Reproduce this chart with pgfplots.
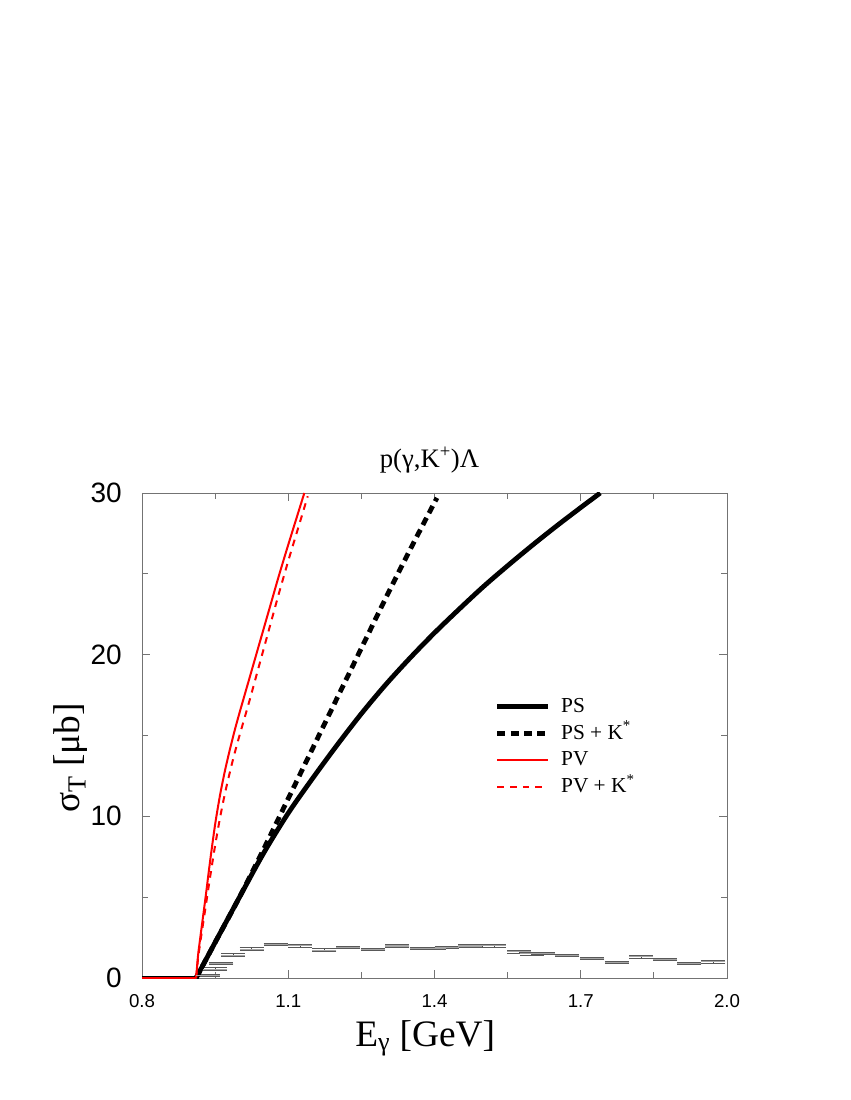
\documentclass[border=0pt]{standalone}
\usepackage{fontspec}
\setmainfont{Liberation Serif}
\newfontfamily\helv{Liberation Sans}
\usepackage{pgfplots}
\usepackage{pgfplotstable}
\pgfplotsset{compat=1.18}

% below threshold
\pgfplotstableread{
E s
0.80 0
0.911 0
}\flat

% PS (pseudoscalar coupling)
\pgfplotstableread{
E s
0.911 0
0.95 2.2
1.00 5.0
1.05 7.75
1.10 10.2
1.15 12.35
1.20 14.4
1.25 16.35
1.30 18.15
1.35 19.8
1.40 21.35
1.45 22.8
1.50 24.2
1.55 25.5
1.60 26.75
1.65 27.95
1.70 29.1
1.74 30.0
}\ps

% PS + K*
\pgfplotstableread{
E s
0.911 0
0.95 2.2
1.00 5.0
1.05 8.0
1.10 11.1
1.15 14.2
1.20 17.3
1.25 20.4
1.30 23.5
1.35 26.5
1.405 29.7
}\psk

% PV (pseudovector coupling)
\pgfplotstableread{
E s
0.911 0
0.915 1.4
0.92 2.6
0.93 4.9
0.94 7.3
0.95 9.5
0.96 11.3
0.97 12.8
0.98 14.1
0.99 15.3
1.00 16.4
1.02 18.5
1.04 20.6
1.06 22.7
1.08 24.8
1.10 26.8
1.133 30.0
}\pv

% PV + K*
\pgfplotstableread{
E s
0.911 0
0.915 1.2
0.92 2.3
0.93 4.3
0.94 6.3
0.95 8.2
0.96 9.9
0.97 11.4
0.98 12.7
0.99 13.9
1.00 15.0
1.02 17.1
1.04 19.3
1.06 21.5
1.08 23.7
1.10 25.8
1.12 27.8
1.14 29.8
}\pvk

% data
\pgfplotstableread{
E s ey
0.935 0.15 0.08
0.950 0.55 0.08
0.963 0.91 0.08
0.987 1.42 0.08
1.025 1.79 0.08
1.074 2.08 0.08
1.124 2.00 0.08
1.174 1.73 0.08
1.223 1.90 0.08
1.274 1.77 0.08
1.324 1.98 0.08
1.374 1.83 0.08
1.399 1.83 0.08
1.425 1.90 0.08
1.473 1.98 0.08
1.499 2.00 0.08
1.522 2.00 0.08
1.574 1.63 0.08
1.599 1.50 0.08
1.623 1.53 0.08
1.672 1.39 0.08
1.724 1.22 0.08
1.774 0.97 0.08
1.824 1.32 0.08
1.873 1.15 0.08
1.923 0.91 0.08
1.972 1.01 0.08
}\dat

\begin{document}
\begin{tikzpicture}
\begin{axis}[
    scale only axis, width=438.75pt, height=363.75pt,
    xmin=0.8, xmax=2.0, ymin=0, ymax=30,
    xtick={0.8,1.1,1.4,1.7,2.0}, ytick={0,10,20,30},
    minor x tick num=1, minor y tick num=1,
    tick align=inside, major tick length=6pt, minor tick length=4.5pt,
    axis line style={black!55, line width=0.6pt},
    every tick/.style={black!55, line width=0.6pt},
    /pgf/number format/assume math mode=true,
    xticklabel style={font=\helv\fontsize{14}{16}\selectfont, inner sep=0pt, yshift=-12pt,
        /pgf/number format/fixed, /pgf/number format/fixed zerofill, /pgf/number format/precision=1},
    yticklabel style={font=\helv\fontsize{21}{23}\selectfont, inner sep=0pt, xshift=-15pt},
    title={p(γ,K\textsuperscript{+})Λ},
    title style={at={(axis description cs:0.4915,1)}, anchor=base, yshift=13pt, font=\fontsize{20}{22}\selectfont},
    xlabel={E\textsubscript{γ} [GeV]},
    xlabel style={at={(axis description cs:0.484,0)}, anchor=base, yshift=-51pt, font=\fontsize{28}{30}\selectfont},
    ylabel={σ\textsubscript{T} [μb]},
    ylabel style={at={(axis description cs:-0.106,0.454)}, anchor=base, inner sep=0pt, font=\fontsize{28}{30}\selectfont},
    legend style={draw=none, fill=none, at={(axis description cs:0.603,0.578)}, anchor=north west,
        font=\fontsize{16}{18}\selectfont, inner sep=0pt, row sep=7pt,
        nodes={inner sep=0pt, text height=11pt, text depth=2pt}},
    legend cell align=left,
    legend image code/.code={\draw[#1] (0pt,0pt) -- (38pt,0pt); \path (46pt,0pt);},
    clip=true,
]
\addplot[forget plot, only marks, mark=-, mark size=9pt, mark options={black!35, line width=0.8pt},
    error bars/.cd, y dir=both, y explicit, error mark=-,
    error mark options={rotate=90, mark size=9pt, black!65, line width=0.6pt},
    error bar style={black!70, line width=0.6pt}]
    table[x=E, y=s, y error=ey] {\dat};
\addplot[forget plot, black, line width=3.6pt] table[x=E, y=s] {\flat};
\addplot[black, line width=3.6pt, smooth] table[x=E, y=s] {\ps};
\addplot[black, line width=3.6pt, smooth, dash pattern=on 6pt off 4pt] table[x=E, y=s] {\psk};
\addplot[red, line width=1.5pt, smooth, tension=0.4] table[x=E, y=s] {\pv};
\addplot[red, line width=1.5pt, smooth, tension=0.4, dash pattern=on 5pt off 4.5pt] table[x=E, y=s] {\pvk};
\addplot[forget plot, red, line width=1.5pt] table[x=E, y=s] {\flat};
\legend{PS, PS + K\textsuperscript{*}, PV, PV + K\textsuperscript{*}}
\end{axis}
\pgfresetboundingbox
\path[use as bounding box] ([shift={(-106.5pt,-91.5pt)}]current axis.south west) rectangle ([shift={(531pt,733.5pt)}]current axis.south west);
\end{tikzpicture}
\end{document}
